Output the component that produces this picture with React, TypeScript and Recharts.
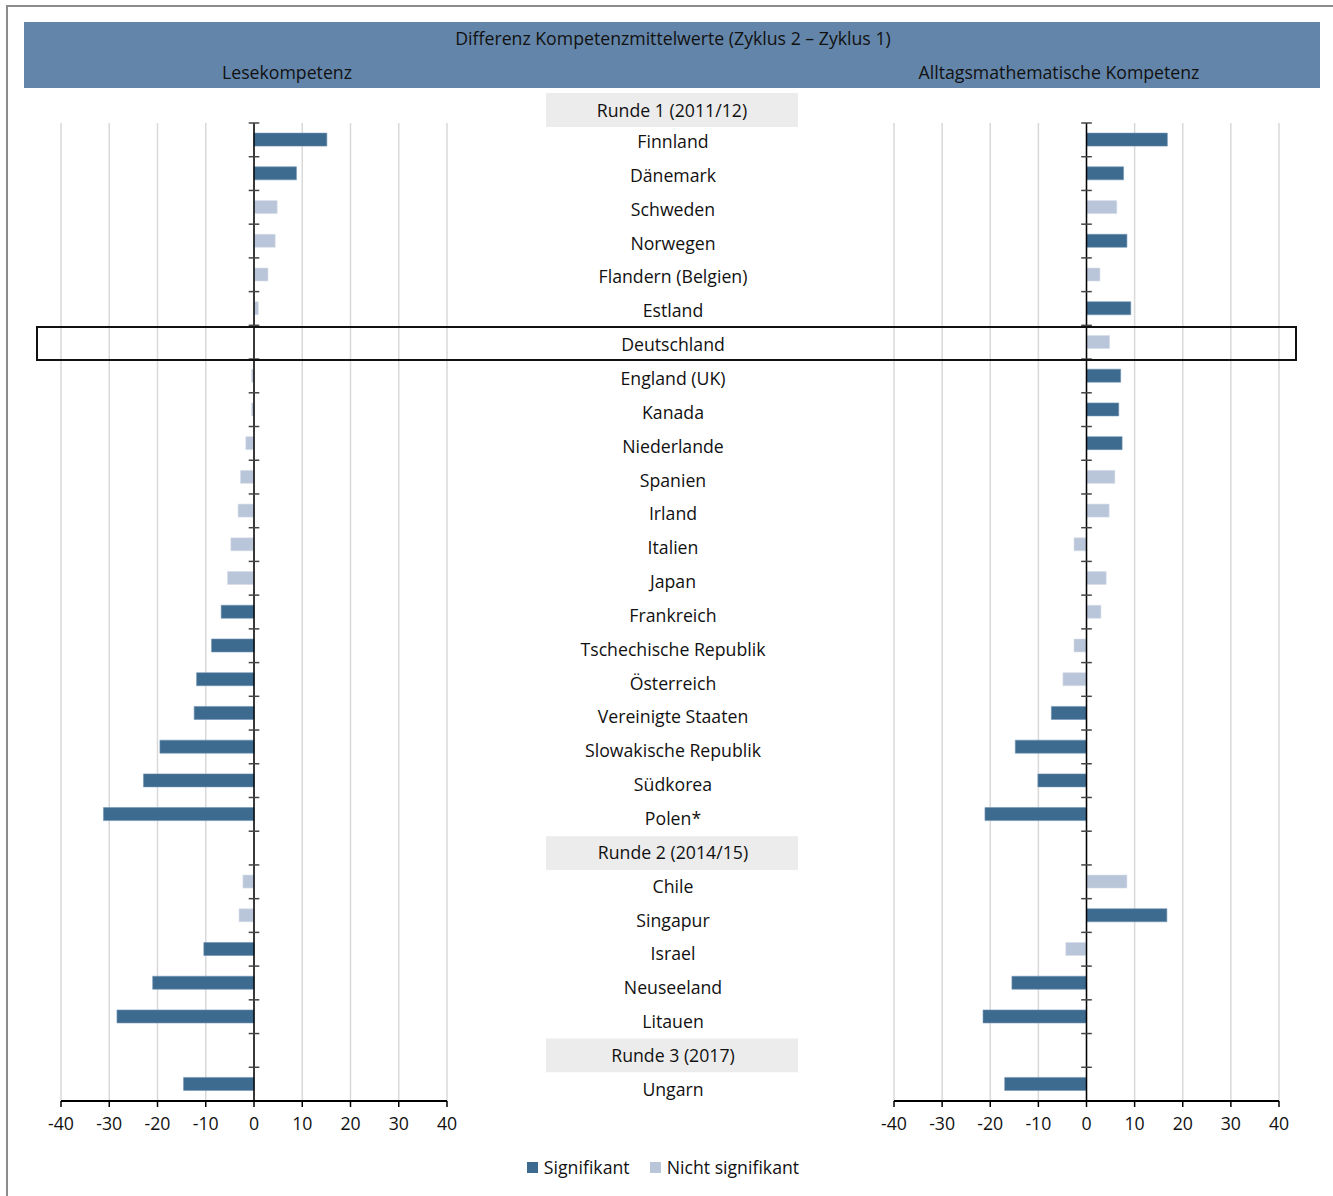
import React from 'react';
import { BarChart, Bar, XAxis, YAxis, CartesianGrid, ReferenceLine, Legend } from 'recharts';

// ---------- data ----------
const firstRoundLabel = 'Runde 1 (2011/12)';
const categories = [
  'Finnland', 'Dänemark', 'Schweden', 'Norwegen', 'Flandern (Belgien)', 'Estland', 'Deutschland',
  'England (UK)', 'Kanada', 'Niederlande', 'Spanien', 'Irland', 'Italien', 'Japan', 'Frankreich',
  'Tschechische Republik', 'Österreich', 'Vereinigte Staaten', 'Slowakische Republik', 'Südkorea', 'Polen*',
  'Runde 2 (2014/15)', 'Chile', 'Singapur', 'Israel', 'Neuseeland', 'Litauen',
  'Runde 3 (2017)', 'Ungarn',
];
const headerRows = ['Runde 2 (2014/15)', 'Runde 3 (2017)'];
const highlightCountry = 'Deutschland';

const readingValues = [
  15.1, 8.8, 4.8, 4.4, 2.9, 0.9, 0, -0.5, -0.5, -1.7, -2.8, -3.3, -4.8, -5.5, -6.8,
  -8.8, -11.9, -12.4, -19.5, -22.9, -31.2,
  null, -2.3, -3.1, -10.4, -21.0, -28.4,
  null, -14.6,
];
const readingSignificant = [
  1, 1, 0, 0, 0, 0, 0, 0, 0, 0, 0, 0, 0, 0, 1,
  1, 1, 1, 1, 1, 1,
  0, 0, 0, 1, 1, 1,
  0, 1,
];
const numeracyValues = [
  16.8, 7.7, 6.3, 8.4, 2.8, 9.2, 4.8, 7.1, 6.7, 7.4, 5.9, 4.7, -2.6, 4.1, 3.0,
  -2.6, -4.9, -7.3, -14.8, -10.1, -21.1,
  null, 8.4, 16.7, -4.3, -15.5, -21.5,
  null, -17.0,
];
const numeracySignificant = [
  1, 1, 0, 1, 0, 1, 0, 1, 1, 1, 0, 0, 0, 0, 0,
  0, 0, 1, 1, 1, 1,
  0, 0, 1, 0, 1, 1,
  0, 1,
];
const xTicks = [-40, -30, -20, -10, 0, 10, 20, 30, 40];
const seriesNames = { sig: 'Signifikant', nsig: 'Nicht signifikant' };
const legendOrder = [seriesNames.sig, seriesNames.nsig];
const titleText = 'Differenz Kompetenzmittelwerte (Zyklus 2 – Zyklus 1)';
const leftTitle = 'Lesekompetenz';
const rightTitle = 'Alltagsmathematische Kompetenz';

// ---------- style / layout ----------
const FONT = '"Open Sans", "Noto Sans", sans-serif';
const SIG = '#3d6a8f';
const NSIG = '#b9c5d8';
const HEADER_BG = '#6385a9';
const GRID = '#d9d9d9';
const TEXT = '#111';
const FS = 17.7;
const CHART_H = 1196;
const PLOT_TOP = 123;
const X_AXIS_H = 40;
const BOTTOM = 55;
const PLOT_H = CHART_H - PLOT_TOP - X_AXIS_H - BOTTOM;
const ROW_H = PLOT_H / categories.length;
const LABEL_W = 446;

function buildRows(values: (number | null)[], sig: number[]) {
  return categories.map((name, i) => {
    const v = values[i];
    return {
      name,
      sig: v != null && sig[i] ? v : null,
      nsig: v != null && !sig[i] ? v : null,
    };
  });
}

const readingRows = buildRows(readingValues, readingSignificant);
const numeracyRows = buildRows(numeracyValues, numeracySignificant);

const CenterTick = (props: any) => {
  const { x, y, payload } = props;
  const cx = x + LABEL_W / 2 + 3;
  const idx = categories.indexOf(payload.value);
  const drift = 2 + (idx / (categories.length - 1)) * 3.5;
  const isHeader = headerRows.includes(payload.value);
  if (isHeader) {
    return (
      <g>
        <rect x={cx - 127} y={y - ROW_H / 2 + 5} width={252} height={ROW_H} fill="#ececec" />
        <text x={cx} y={y + 5} dy="0.35em" textAnchor="middle" fontSize={FS} fill={TEXT} fontFamily={FONT}>
          {payload.value}
        </text>
      </g>
    );
  }
  return (
    <text x={cx} y={y + drift} dy="0.35em" textAnchor="middle" fontSize={FS} fill={TEXT} fontFamily={FONT}>
      {payload.value}
    </text>
  );
};

const LegendContent = (props: any) => {
  const payload = [...(props.payload || [])].sort(
    (a: any, b: any) => legendOrder.indexOf(a.value) - legendOrder.indexOf(b.value)
  );
  return (
    <div style={{ display: 'flex', justifyContent: 'center', gap: 20, fontFamily: FONT, fontSize: FS, color: TEXT }}>
      {payload.map((entry: any) => (
        <div key={entry.value} style={{ display: 'flex', alignItems: 'center' }}>
          <span style={{ display: 'inline-block', width: 11, height: 11, background: entry.color, marginRight: 6 }} />
          <span>{entry.value}</span>
        </div>
      ))}
    </div>
  );
};

function Panel({ rows, showLabels, withLegend }: { rows: any[]; showLabels: boolean; withLegend: boolean }) {
  const margin = showLabels
    ? { top: PLOT_TOP, left: 61, right: 0, bottom: BOTTOM }
    : { top: PLOT_TOP, left: 13, right: 22, bottom: BOTTOM };
  const width = showLabels ? 893 : 420;
  return (
    <BarChart
      width={width}
      height={CHART_H}
      data={rows}
      layout="vertical"
      margin={margin}
      barCategoryGap="30%"
      style={{ fontFamily: FONT }}
    >
      <CartesianGrid horizontal={false} vertical stroke={GRID} strokeWidth={1.5} />
      <XAxis
        type="number"
        domain={[-40, 40]}
        ticks={xTicks}
        height={X_AXIS_H}
        axisLine={{ stroke: '#000', strokeWidth: 2 }}
        tickLine={{ stroke: '#000', strokeWidth: 1.5 }}
        tickSize={6}
        tickMargin={10}
        tick={{ fontSize: FS, fill: TEXT, fontFamily: FONT }}
      />
      {showLabels ? (
        <YAxis
          type="category"
          dataKey="name"
          orientation="right"
          width={LABEL_W}
          axisLine={false}
          tickLine={false}
          tickSize={0}
          tickMargin={0}
          interval={0}
          tick={<CenterTick />}
        />
      ) : (
        <YAxis type="category" dataKey="name" hide interval={0} />
      )}
      <Bar dataKey="sig" name={seriesNames.sig} stackId="a" fill={SIG} stroke="#6f93b3" strokeWidth={0.6} isAnimationActive={false} />
      <Bar dataKey="nsig" name={seriesNames.nsig} stackId="a" fill={NSIG} stroke="#d6deea" strokeWidth={0.6} isAnimationActive={false} />
      <ReferenceLine x={0} stroke="#000" strokeWidth={1.5} />
      {categories.map((c) => (
        <ReferenceLine
          key={c}
          segment={[{ x: -1.1, y: c }, { x: 1.1, y: c }]}
          position="start"
          stroke="#444"
          strokeWidth={1.5}
        />
      ))}
      {withLegend && (
        <Legend
          layout="horizontal"
          verticalAlign="middle"
          align="center"
          content={<LegendContent />}
          wrapperStyle={{ position: 'absolute', top: 1155, left: 0, width: 1326, height: 26 }}
        />
      )}
    </BarChart>
  );
}

export default function App() {
  const hiIdx = categories.indexOf(highlightCountry);
  return (
    <div style={{ position: 'absolute', left: 0, top: 0, width: 1333, height: 1196, fontFamily: FONT, color: TEXT, background: '#fff', overflow: 'hidden' }}>
      {/* outer frame */}
      <div style={{ position: 'absolute', left: 6, top: 5, right: 0, bottom: 0, borderTop: '2px solid #8c8c8c', borderLeft: '2px solid #8c8c8c' }} />
      {/* header band */}
      <div style={{ position: 'absolute', left: 24, top: 22, width: 1296, height: 66, background: HEADER_BG }}>
        <div style={{ position: 'absolute', left: 0, width: 1298, top: 4, textAlign: 'center', fontSize: FS, lineHeight: '24px' }}>{titleText}</div>
        <div style={{ position: 'absolute', left: 163, width: 200, top: 38, textAlign: 'center', fontSize: FS, lineHeight: '24px' }}>{leftTitle}</div>
        <div style={{ position: 'absolute', left: 835, width: 400, top: 38, textAlign: 'center', fontSize: FS, lineHeight: '24px' }}>{rightTitle}</div>
      </div>
      {/* Runde 1 header box */}
      <div style={{ position: 'absolute', left: 546, top: 93, width: 252, height: 34, background: '#ececec', textAlign: 'center', fontSize: FS, lineHeight: '34px' }}>
        {firstRoundLabel}
      </div>
      <div style={{ position: 'absolute', left: 0, top: 0 }}>
        <Panel rows={readingRows} showLabels withLegend />
      </div>
      <div style={{ position: 'absolute', left: 881, top: 0 }}>
        <Panel rows={numeracyRows} showLabels={false} withLegend={false} />
      </div>
      {/* highlight box for Deutschland */}
      <div
        style={{
          position: 'absolute',
          left: 36,
          width: 1261,
          top: PLOT_TOP + hiIdx * ROW_H + 1,
          height: ROW_H + 0.5,
          border: '2px solid #111',
          boxSizing: 'border-box',
          pointerEvents: 'none',
        }}
      />
    </div>
  );
}
